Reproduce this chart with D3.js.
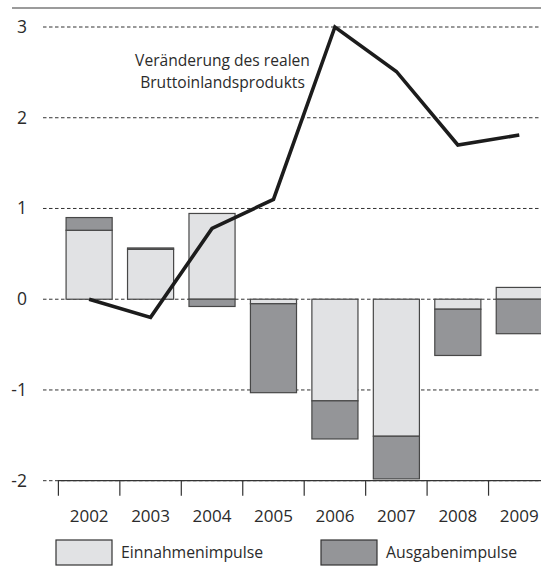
<!DOCTYPE html>
<html lang="de">
<head>
<meta charset="utf-8">
<title>Impulse und BIP</title>
<script src="https://cdn.jsdelivr.net/npm/d3@7"></script>
<style>
    body { margin: 0; background: #fff; }
    svg text { font-family: "Open Sans", sans-serif; fill: #2b2b2b; }
</style>
</head>
<body>
<div id="chart"></div>
<script>
// data
var years = ["2002", "2003", "2004", "2005", "2006", "2007", "2008", "2009"];
var einnahmen = [0.76, 0.55, 0.945, -0.05, -1.12, -1.51, -0.11, 0.13];
var ausgaben  = [0.14, 0.015, -0.08, -0.98, -0.42, -0.47, -0.51, -0.38];
var bip       = [0.0, -0.2, 0.78, 1.1, 3.0, 2.51, 1.7, 1.81];
var yTicks    = [3, 2, 1, 0, -1, -2];
var seriesNames = ["Einnahmenimpulse", "Ausgabenimpulse"];
var colors = ["#e1e2e4", "#949598"];

var width = 541, height = 577;

var svg = d3.select("#chart").append("svg")
    .attr("width", width)
    .attr("height", height);

var y = d3.scaleLinear().domain([-2, 3]).range([480.7, 27]);

var x = d3.scaleBand()
    .domain(years)
    .range([58.4, 550])
    .paddingInner(0.25)
    .paddingOuter(0.125);

// top rule
svg.append("line")
    .attr("x1", 12).attr("x2", width)
    .attr("y1", 8).attr("y2", 8)
    .attr("stroke", "#7a7a7a")
    .attr("stroke-width", 1.5);

// dashed gridlines
svg.append("g").selectAll("line")
    .data(yTicks)
    .enter().append("line")
    .attr("x1", 43).attr("x2", width)
    .attr("y1", function(d) { return y(d); })
    .attr("y2", function(d) { return y(d); })
    .attr("stroke", "#333")
    .attr("stroke-width", 1)
    .attr("stroke-dasharray", "3.5,2.5");

// y labels
svg.append("g").selectAll("text")
    .data(yTicks)
    .enter().append("text")
    .attr("x", 27)
    .attr("y", function(d) { return y(d) + 6; })
    .attr("text-anchor", "end")
    .style("font-size", "17.5px")
    .text(function(d) { return d; });

// stacked bars, diverging around zero
var rows = years.map(function(yr, i) {
    return { year: yr, Einnahmenimpulse: einnahmen[i], Ausgabenimpulse: ausgaben[i] };
});
var stack = d3.stack()
    .keys(seriesNames)
    .offset(d3.stackOffsetDiverging);
var layers = stack(rows);

svg.append("g").selectAll("g")
    .data(layers)
    .enter().append("g")
    .attr("fill", function(d, i) { return colors[i]; })
    .selectAll("rect")
    .data(function(d) { return d; })
    .enter().append("rect")
    .attr("x", function(d) { return x(d.data.year); })
    .attr("width", x.bandwidth())
    .attr("y", function(d) { return y(Math.max(d[0], d[1])); })
    .attr("height", function(d) { return Math.abs(y(d[0]) - y(d[1])); })
    .attr("stroke", "#474747")
    .attr("stroke-width", 1.2);

// bottom axis line and ticks at category boundaries
var axisY = y(-2);
svg.append("line")
    .attr("x1", 58).attr("x2", width)
    .attr("y1", axisY).attr("y2", axisY)
    .attr("stroke", "#333")
    .attr("stroke-width", 1.2);

svg.append("g").selectAll("line")
    .data(years)
    .enter().append("line")
    .attr("x1", function(d) { return x(d) - x.step() * 0.125; })
    .attr("x2", function(d) { return x(d) - x.step() * 0.125; })
    .attr("y1", axisY).attr("y2", axisY + 15)
    .attr("stroke", "#333")
    .attr("stroke-width", 1.2);

var xAxis = svg.append("g")
    .attr("transform", "translate(0," + axisY + ")")
    .call(d3.axisBottom(x).tickSize(0).tickPadding(29));
xAxis.select(".domain").remove();
xAxis.selectAll("text")
    .style("font-size", "17px")
    .style("font-family", "'Open Sans', sans-serif")
    .attr("fill", "#2b2b2b");

// GDP line
var line = d3.line()
    .x(function(d, i) { return x(years[i]) + x.bandwidth() / 2; })
    .y(function(d) { return y(d); });

svg.append("path")
    .datum(bip)
    .attr("d", line)
    .attr("fill", "none")
    .attr("stroke", "#1c1c1c")
    .attr("stroke-width", 3.6)
    .attr("stroke-linejoin", "miter");

// annotation
var note = svg.append("text")
    .attr("text-anchor", "middle")
    .style("font-size", "15.6px");
note.append("tspan").attr("x", 222.5).attr("y", 66).text("Veränderung des realen");
note.append("tspan").attr("x", 222.5).attr("y", 88).text("Bruttoinlandsprodukts");

// legend
var legendX = [56, 321];
var legend = svg.append("g").selectAll("g")
    .data(seriesNames)
    .enter().append("g")
    .attr("transform", function(d, i) { return "translate(" + legendX[i] + ",540)"; });
legend.append("rect")
    .attr("width", 56).attr("height", 25)
    .attr("fill", function(d, i) { return colors[i]; })
    .attr("stroke", "#333")
    .attr("stroke-width", 1.2);
legend.append("text")
    .attr("x", 65).attr("y", 18)
    .style("font-size", "15.8px")
    .text(function(d) { return d; });
</script>
</body>
</html>
